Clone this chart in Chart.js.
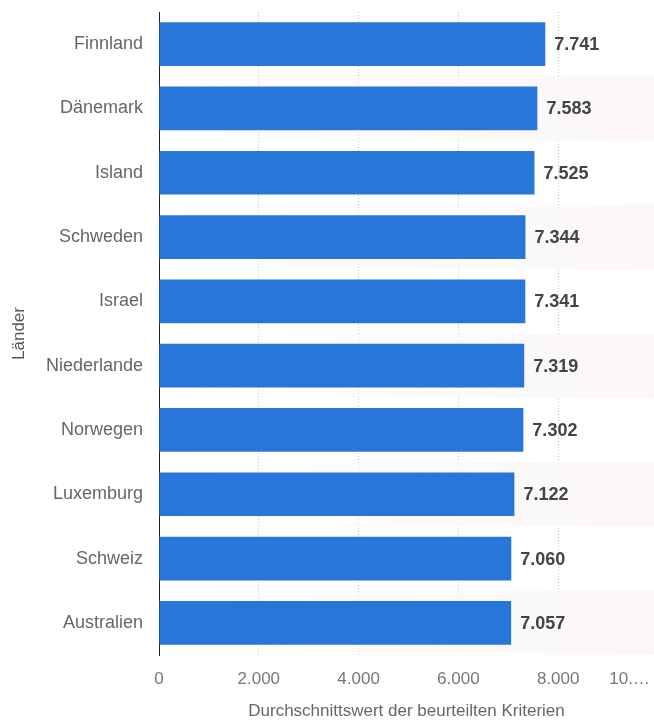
<!DOCTYPE html>
<html lang="de">
<head>
<meta charset="utf-8">
<title>Länder nach Durchschnittswert</title>
<script src="https://cdn.jsdelivr.net/npm/chart.js@4/dist/chart.umd.min.js"></script>
<style>
  html, body { margin: 0; padding: 0; background: #fff; }
  #wrap { width: 654px; height: 722px; }
</style>
</head>
<body>
<div id="wrap"><canvas id="chart" width="654" height="722"></canvas></div>
<script>
const countries = ['Finnland', 'Dänemark', 'Island', 'Schweden', 'Israel', 'Niederlande', 'Norwegen', 'Luxemburg', 'Schweiz', 'Australien'];
const scores = [7.741, 7.583, 7.525, 7.344, 7.341, 7.319, 7.302, 7.122, 7.060, 7.057];
const xTicks = [0, 2, 4, 6, 8, 10];

const FONT = '"Liberation Sans", Arial, sans-serif';
const BAR_BLUE = '#2876d9';
// the axis runs to 10 but the plot is cut just before it
const X_VISIBLE_MAX = 9.92;

const fmt = v => (v === 0 ? '0' : v.toFixed(3));

// faint stripes behind every second row
const rowStripes = {
  id: 'rowStripes',
  beforeDatasetsDraw(chart) {
    const { ctx, chartArea, scales } = chart;
    const y = scales.y;
    const step = (chartArea.bottom - chartArea.top) / countries.length;
    ctx.save();
    const grad = ctx.createLinearGradient(chartArea.left, 0, chart.width, 0);
    grad.addColorStop(0, 'rgba(251,247,247,0)');
    grad.addColorStop(0.5, 'rgba(251,247,247,0.6)');
    grad.addColorStop(1, 'rgba(251,247,247,1)');
    ctx.fillStyle = grad;
    countries.forEach((c, i) => {
      if (i % 2 === 1) {
        const cy = y.getPixelForValue(i);
        ctx.fillRect(chartArea.left + 1, cy - step / 2, chart.width - chartArea.left, step);
      }
    });
    ctx.restore();
  }
};

// value text at the end of each bar
const barValues = {
  id: 'barValues',
  afterDatasetsDraw(chart) {
    const { ctx } = chart;
    const meta = chart.getDatasetMeta(0);
    ctx.save();
    ctx.font = 'bold 18px ' + FONT;
    ctx.fillStyle = '#444';
    ctx.textAlign = 'left';
    ctx.textBaseline = 'middle';
    meta.data.forEach((bar, i) => {
      ctx.fillText(fmt(scores[i]), bar.x + 9, bar.y + 1);
    });
    ctx.restore();
  }
};

// the last x tick does not fit, so it is drawn shortened and pulled inward
const lastTick = {
  id: 'lastTick',
  afterDraw(chart) {
    const { ctx, scales } = chart;
    const x = scales.x;
    const last = xTicks[xTicks.length - 1];
    ctx.save();
    ctx.font = '17px ' + FONT;
    ctx.fillStyle = '#777';
    ctx.textAlign = 'right';
    ctx.textBaseline = 'middle';
    ctx.fillText(String(last) + '.…', Math.min(x.getPixelForValue(last), 650), x.top + 24);
    ctx.restore();
  }
};

new Chart(document.getElementById('chart'), {
  type: 'bar',
  data: {
    labels: countries,
    datasets: [{
      data: scores,
      backgroundColor: BAR_BLUE,
      borderWidth: 0,
      barPercentage: 0.68,
      categoryPercentage: 1
    }]
  },
  options: {
    indexAxis: 'y',
    responsive: false,
    animation: false,
    devicePixelRatio: 1,
    layout: { padding: { top: 12, right: 0, bottom: 0, left: 0 } },
    plugins: {
      legend: { display: false },
      tooltip: { enabled: false }
    },
    scales: {
      x: {
        min: 0,
        max: X_VISIBLE_MAX,
        afterBuildTicks(scale) {
          scale.ticks = xTicks.filter(v => v <= X_VISIBLE_MAX).map(v => ({ value: v }));
        },
        afterFit(scale) {
          scale.height = 67;
          scale.paddingRight = 0;
        },
        ticks: {
          autoSkip: false,
          maxRotation: 0,
          padding: 14,
          color: '#777',
          font: { family: FONT, size: 17 },
          callback: v => fmt(v)
        },
        grid: {
          drawTicks: false,
          color: ctx => (ctx.tick && ctx.tick.value > 0 ? '#c4c4c4' : 'rgba(0,0,0,0)'),
          lineWidth: 1
        },
        border: { display: false, dash: [1, 2] },
        title: {
          display: true,
          text: 'Durchschnittswert der beurteilten Kriterien',
          color: '#666',
          font: { family: FONT, size: 17 },
          padding: { top: 4, bottom: 0 }
        }
      },
      y: {
        afterFit(scale) {
          scale.width = 159;
          scale.paddingTop = 0;
          scale.paddingBottom = 0;
        },
        ticks: {
          padding: 16,
          color: '#666',
          font: { family: FONT, size: 18 }
        },
        grid: { display: false, drawTicks: false },
        border: { display: true, color: '#222', width: 1 },
        title: {
          display: true,
          text: 'Länder',
          color: '#555',
          font: { family: FONT, size: 17 },
          padding: { top: 9, bottom: 0 }
        }
      }
    }
  },
  plugins: [rowStripes, barValues, lastTick]
});
</script>
</body>
</html>
